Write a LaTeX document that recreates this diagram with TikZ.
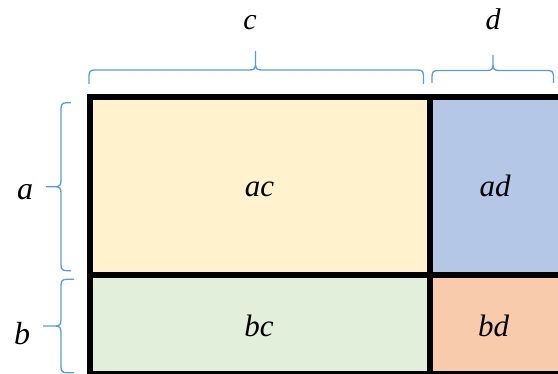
\documentclass[tikz,border=0pt]{standalone}
\usepackage{fontspec}
\setmainfont{Liberation Serif}
\definecolor{cellA}{HTML}{FFF2CC}
\definecolor{cellB}{HTML}{B4C7E7}
\definecolor{cellC}{HTML}{E2EFDA}
\definecolor{cellD}{HTML}{F8CBAD}
\definecolor{braceblue}{HTML}{5B9BD5}
\begin{document}
\begin{tikzpicture}[x=1pt,y=-1pt,
  cell/.style={draw=none,inner sep=0pt,outer sep=0pt,anchor=north west},
  frame/.style={line width=5.5pt,line cap=rect},
  bracket/.style={draw=braceblue,line width=1.3pt},
  inlabel/.style={anchor=base,inner sep=0pt,font=\fontsize{31}{31}\selectfont\itshape},
  toplabel/.style={anchor=base,inner sep=0pt,font=\fontsize{30}{30}\selectfont\itshape},
  sidelabel/.style={anchor=base,inner sep=0pt,font=\fontsize{32}{32}\selectfont\itshape}]
\useasboundingbox (0,0) rectangle (558,374);
\clip (0,0) rectangle (558,374);
% cells
\node[cell,fill=cellA,minimum width=340pt,minimum height=178pt] (ac) at (90,97) {};
\node[cell,fill=cellB,minimum width=136pt,minimum height=178pt] (ad) at (430,97) {};
\node[cell,fill=cellC,minimum width=340pt,minimum height=98.5pt] (bc) at (90,275) {};
\node[cell,fill=cellD,minimum width=136pt,minimum height=98.5pt] (bd) at (430,275) {};
% frame
\draw[frame] (ac.north west) rectangle (bd.south east);
\draw[frame] (ac.north east) -- (bc.south east);
\draw[frame] (ac.south west) -- (ad.south east);
% cell labels
\node[inlabel] (tac) at (259.5,197) {ac};
\node[inlabel] (tad) at (495,197) {ad};
\node[inlabel] (tbc) at (259,337) {bc};
\node[inlabel] (tbd) at (493.5,337) {bd};
% top labels
\node[toplabel] (lc) at (250,30) {c};
\node[toplabel] (ld) at (493,30) {d};
% side labels
\node[sidelabel] (la) at (25,200) {a};
\node[sidelabel] (lb) at (22,345) {b};
% top braces
\draw[bracket] (89,84) -- (89,76) .. controls (89,71.5) and (90.5,70) .. (95,70)
  -- (249.5,70) .. controls (254,70) and (255.5,68.5) .. (255.5,64) -- (255.5,51)
  -- (255.5,64) .. controls (255.5,68.5) and (257,70) .. (261.5,70)
  -- (417.5,70) .. controls (422,70) and (423.5,71.5) .. (423.5,76) -- (423.5,84);
\draw[bracket] (432,83) -- (432,76.5) .. controls (432,72) and (433.5,70.5) .. (438,70.5)
  -- (487,70.5) .. controls (491.5,70.5) and (493,69) .. (493,64.5) -- (493,55)
  -- (493,64.5) .. controls (493,69) and (494.5,70.5) .. (499,70.5)
  -- (547.5,70.5) .. controls (552,70.5) and (553.5,72) .. (553.5,76.5) -- (553.5,83);
% side braces
\draw[bracket] (71,102.7) -- (67,102.7) .. controls (62.5,102.7) and (61,104.2) .. (61,108.7)
  -- (61,180.7) .. controls (61,185.2) and (59.5,186.7) .. (55,186.7) -- (46,186.7)
  -- (55,186.7) .. controls (59.5,186.7) and (61,188.2) .. (61,192.7)
  -- (61,264.7) .. controls (61,269.2) and (62.5,270.7) .. (67,270.7) -- (71,270.7);
\draw[bracket] (74,279.3) -- (67,279.3) .. controls (62.5,279.3) and (61,280.8) .. (61,285.3)
  -- (61,320) .. controls (61,324.5) and (59.5,326) .. (55,326) -- (43,326)
  -- (55,326) .. controls (59.5,326) and (61,327.5) .. (61,332)
  -- (61,366.7) .. controls (61,371.2) and (62.5,372.7) .. (67,372.7) -- (74,372.7);
\end{tikzpicture}
\end{document}
